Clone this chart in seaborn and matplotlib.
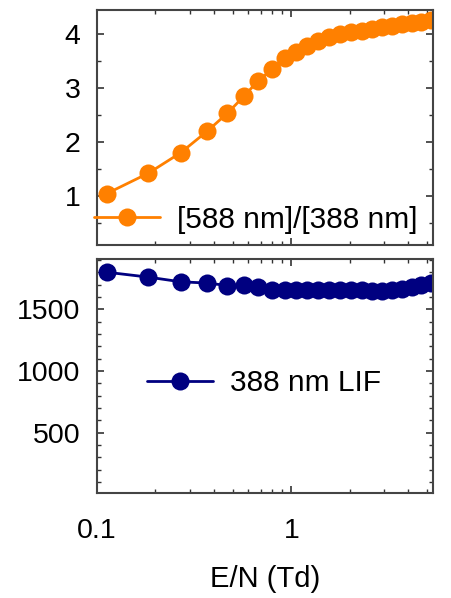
import numpy as np
import pandas as pd
import matplotlib
matplotlib.use("Agg")
import matplotlib.pyplot as plt
from matplotlib.ticker import LogLocator, MultipleLocator, NullFormatter, FixedLocator, FixedFormatter
import seaborn as sns

# Data
en_td = [0.112, 0.184, 0.270, 0.370, 0.469, 0.569, 0.671, 0.80, 0.925, 1.057,
         1.205, 1.372, 1.563, 1.782, 2.03, 2.31, 2.60, 2.93, 3.30, 3.71,
         4.18, 4.65, 5.24]
ratio_588_388 = [1.05, 1.43, 1.81, 2.21, 2.54, 2.85, 3.13, 3.36, 3.56, 3.68,
                 3.79, 3.88, 3.96, 4.01, 4.04, 4.07, 4.10, 4.13, 4.16, 4.19,
                 4.21, 4.23, 4.26]
lif_388 = [1800, 1760, 1722, 1712, 1692, 1694, 1676, 1658, 1652, 1658,
           1656, 1654, 1652, 1656, 1658, 1652, 1645, 1648, 1652, 1665,
           1680, 1695, 1715]
top_label = "[588 nm]/[388 nm]"
bottom_label = "388 nm LIF"
xlabel = "E/N (Td)"

sns.set_style("ticks")
plt.rcParams['font.family'] = ['Liberation Sans', 'DejaVu Sans']
plt.rcParams['text.color'] = 'black'
plt.rcParams['axes.labelcolor'] = 'black'

df = pd.DataFrame({"en": en_td, "ratio": ratio_588_388, "lif": lif_388})

W, H = 452, 598
fig = plt.figure(figsize=(W / 100, H / 100), dpi=100)
L, R = 97, 433
ax1 = fig.add_axes([L / W, 1 - 245 / H, (R - L) / W, (245 - 9.5) / H])
ax2 = fig.add_axes([L / W, 1 - 493 / H, (R - L) / W, (493 - 259) / H])

orange = "#ff8000"
navy = "#000080"

sns.lineplot(data=df, x="en", y="ratio", ax=ax1, color=orange, marker="o",
             markersize=13, markeredgewidth=0, linewidth=2.0, label=top_label)
sns.lineplot(data=df, x="en", y="lif", ax=ax2, color=navy, marker="o",
             markersize=13, markeredgewidth=0, linewidth=2.0, label=bottom_label)

for ax in (ax1, ax2):
    ax.set_xscale("log")
    ax.set_xlim(0.1, 5.36)
    ax.xaxis.set_major_locator(FixedLocator([0.1, 1]))
    ax.xaxis.set_minor_locator(LogLocator(base=10, subs=np.arange(2, 10)))
    ax.xaxis.set_minor_formatter(NullFormatter())
    ax.tick_params(which="both", direction="in", top=True, right=True,
                   colors="#333333", labelcolor="black", labelsize=20.5)
    ax.tick_params(which="major", length=5, width=1.2)
    ax.tick_params(which="minor", length=3, width=1.0)
    for s in ax.spines.values():
        s.set_color("#444444")
        s.set_linewidth(1.5)
    ax.set_ylabel("")

ax1.set_ylim(0.1, 4.46)
ax1.yaxis.set_major_locator(MultipleLocator(1))
ax1.yaxis.set_minor_locator(MultipleLocator(0.5))
ax1.tick_params(axis="x", labelbottom=False)
ax1.tick_params(axis="y", pad=12)
ax1.set_xlabel("")

ax2.set_ylim(10, 1907)
ax2.yaxis.set_major_locator(FixedLocator([500, 1000, 1500]))
ax2.yaxis.set_minor_locator(MultipleLocator(100))
ax2.xaxis.set_major_formatter(FixedFormatter(["0.1", "1"]))
ax2.tick_params(axis="y", pad=12)
ax2.tick_params(axis="x", pad=18)
ax2.set_xlabel(xlabel, fontsize=21, labelpad=15)

ax1.legend(loc="lower left", bbox_to_anchor=(-0.07, -0.04), frameon=False,
           fontsize=21.5, handlelength=2.2, handletextpad=0.55, borderpad=0.2)
ax2.legend(loc="center left", bbox_to_anchor=(0.07, 0.47), frameon=False,
           fontsize=21.5, handlelength=2.2, handletextpad=0.55)

fig.savefig("out.png", dpi=100)
